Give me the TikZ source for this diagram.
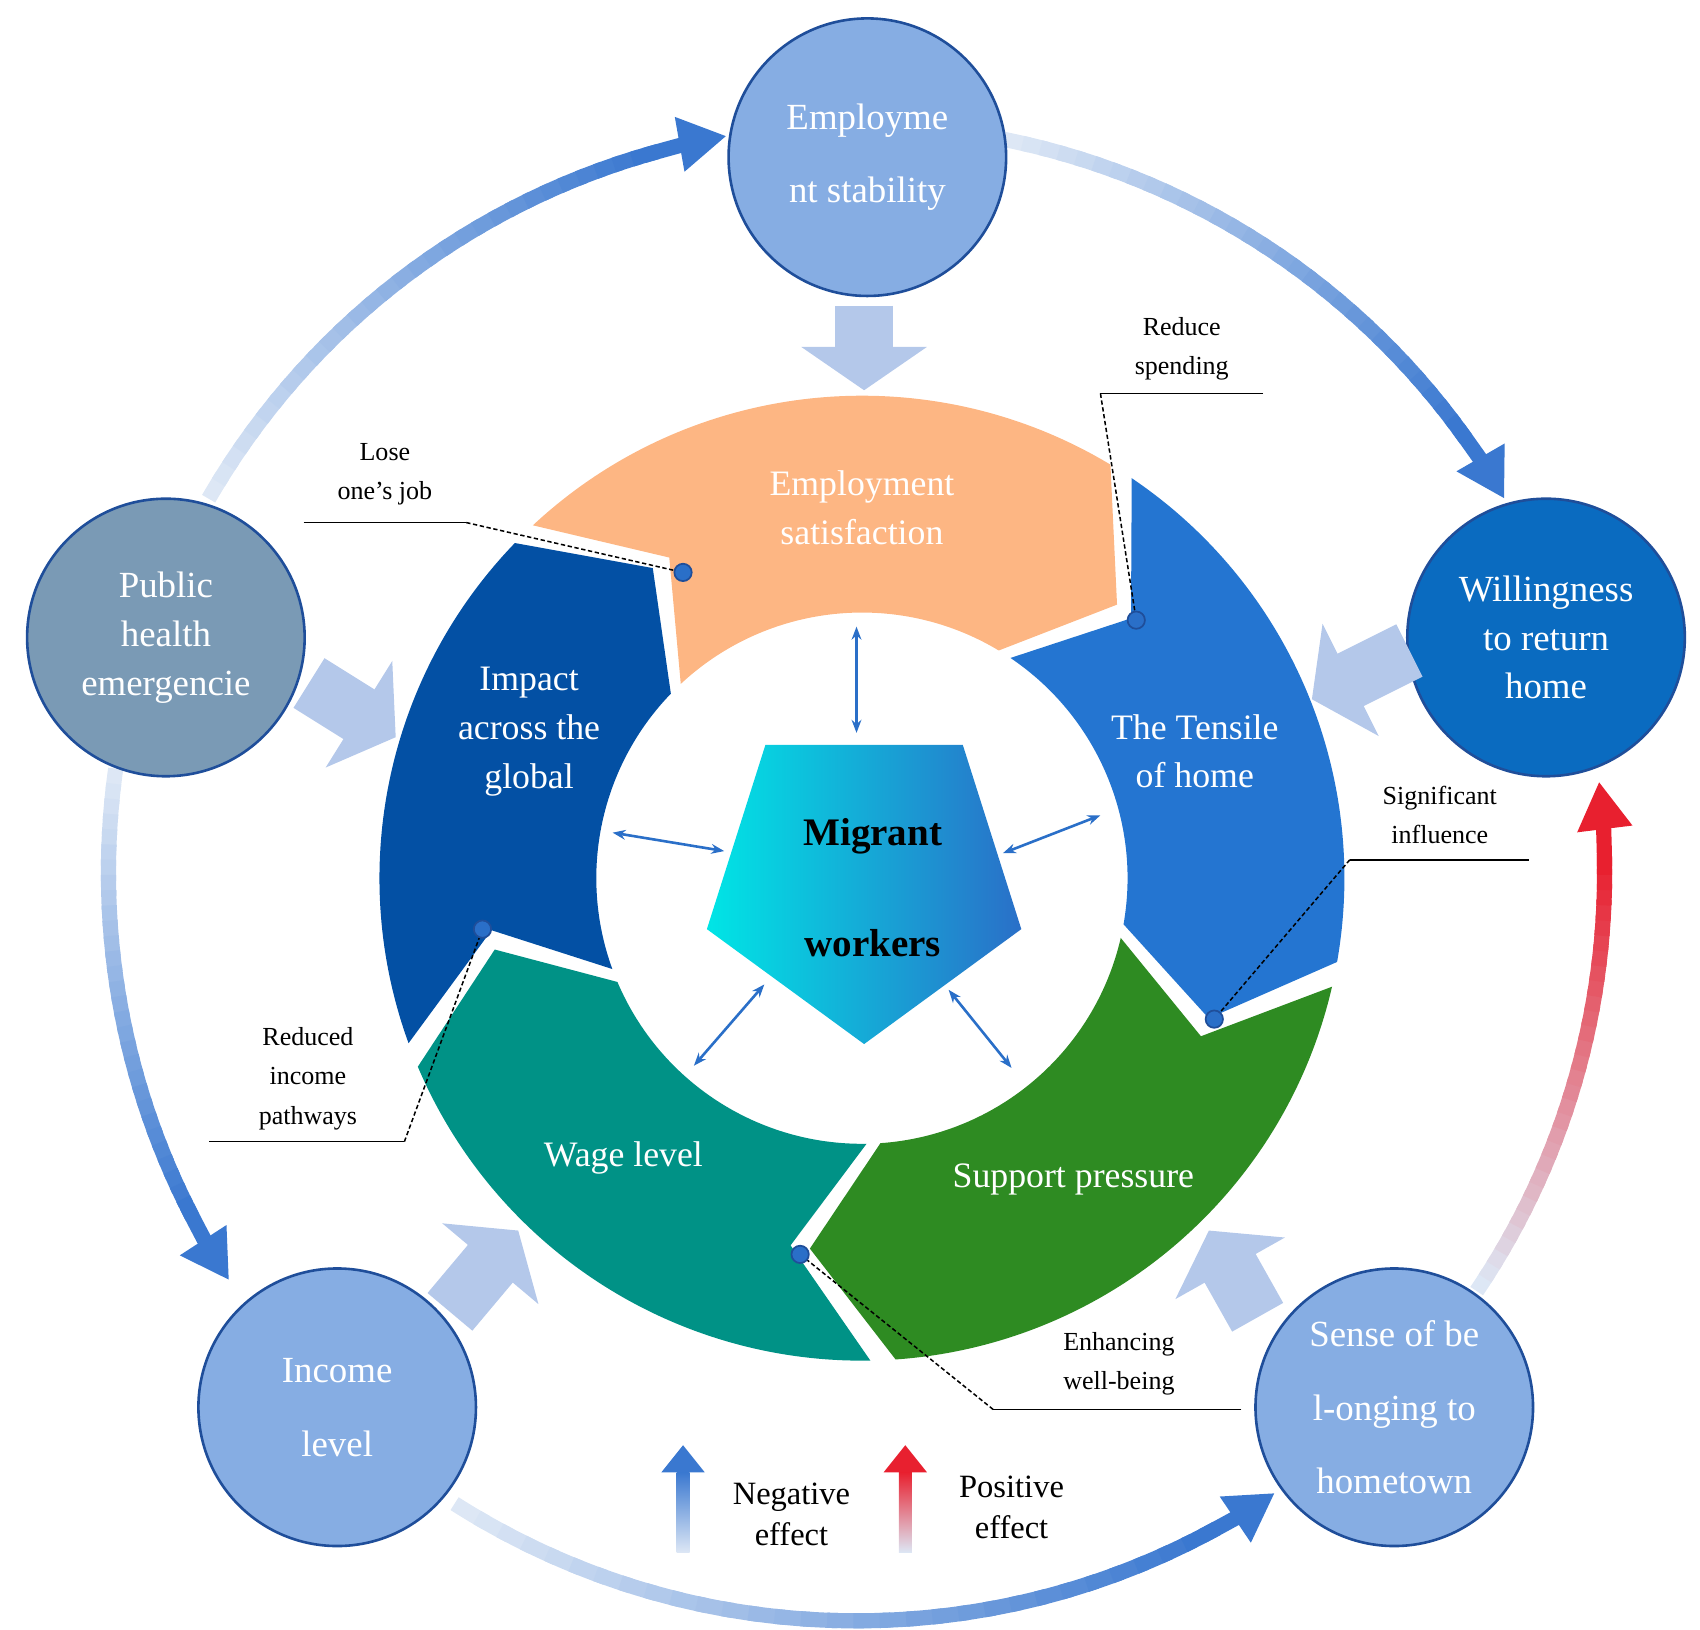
\documentclass[tikz,border=0pt]{standalone}
\usepackage{fontspec}
\setmainfont{Liberation Serif}
\usetikzlibrary{arrows.meta,calc}
\definecolor{orng}{HTML}{FDB683}
\definecolor{dblue}{HTML}{0350A4}
\definecolor{mblue}{HTML}{2475D1}
\definecolor{grn}{HTML}{2E8B22}
\definecolor{teal2}{HTML}{009286}
\definecolor{circ}{HTML}{86ADE3}
\definecolor{circgrey}{HTML}{7A9AB5}
\definecolor{circdark}{HTML}{0A6BC0}
\definecolor{edge}{HTML}{1F4E9A}
\definecolor{light}{HTML}{DDE7F5}
\definecolor{arrb}{HTML}{3A78D0}
\definecolor{arrr}{HTML}{E8202F}
\definecolor{block}{HTML}{B4C8EA}
\definecolor{thinb}{HTML}{2A6FC8}
\newcommand\myseg[3]{\fill[#3] (#1:445) arc[start angle=#1,end angle=#2,radius=445] -- (#2-12:345) -- (#2:245) arc[start angle=#2,end angle=#1,radius=245] -- (#1-12:345) -- cycle;}
\newcommand\gradarc[4]{%
 \pgfmathsetmacro\sg{sign(#2-#1)}%
 \pgfmathsetmacro\ee{#2-6*\sg}%
 \foreach \i in {0,...,29}{%
  \pgfmathsetmacro\aa{#1+(\ee-#1)*\i/30}%
  \pgfmathsetmacro\bb{#1+(\ee-#1)*(\i+1.4)/30}%
  \pgfmathtruncatemacro\pp{100*\i/29}%
  \draw[line width=7pt, color=#4!\pp!#3] ($(C)+(\aa:690)$) arc[start angle=\aa, end angle=\bb, radius=690];
 }%
 \pgfmathsetmacro\cc{#2-6.5*\sg}%
 \draw[line width=7pt, color=#4, -{Triangle[length=22pt,width=24pt]}] ($(C)+(\cc:690)$) arc[start angle=\cc, end angle=#2, radius=690];}
\begin{document}
\begin{tikzpicture}[x=0.5pt,y=0.5pt,
  bc/.style={circle, draw=edge, line width=1.2pt, minimum size=128pt, text=white, align=center, font=\fontsize{17}{22.5}\selectfont},
  seglab/.style={text=white, align=center, font=\fontsize{16.5}{22.5}\selectfont},
  blk/.style={draw=block, line width=27pt, -{Triangle[length=20pt,width=57pt]}},
  dbl/.style={draw=thinb, line width=1.2pt, {Stealth[length=6pt]}-{Stealth[length=6pt]}},
  call/.style={font=\fontsize{12}{18}\selectfont, align=center},
  dot/.style={fill=thinb, draw=edge, line width=0.8pt}]
\useasboundingbox (0,0) rectangle (1568,1503);
\coordinate (C) at (790,698);
% outer arcs
\gradarc{150}{100}{light}{arrb}
\gradarc{78.6}{30}{light}{arrb}
\gradarc{172}{213}{light}{arrb}
\gradarc{237.5}{304}{light}{arrb}
\gradarc{-34}{7}{light}{arrr}
% ring
\begin{scope}[shift={(795,693)}]
\myseg{133}{59}{orng}
\myseg{56}{-10}{mblue}
\myseg{-13}{-86}{grn}
\myseg{-89}{-157}{teal2}
\myseg{200}{136}{dblue}
\end{scope}
\node[seglab] (es) at (795,1035) {Employment\\satisfaction};
\node[seglab] (th) at (1102,810) {The Tensile\\of home};
\node[seglab] (sp) at (990,415) {Support pressure};
\node[seglab] (wl) at (575,435) {Wage level};
\node[seglab] (ia) at (488,828) {Impact\\across the\\global};
% pentagon
\shade[left color=cyan!80!teal, right color=thinb] (706,816) -- (888,816) -- (942,646) -- (797,540) -- (652,646) -- cycle;
\node[font=\bfseries\fontsize{18}{51}\selectfont, align=center] (mw) at (805,684) {Migrant\\workers};
% double arrows
\coordinate (p1) at (790,925); \coordinate (q1) at (790,827);
\coordinate (p2) at (565,735); \coordinate (q2) at (668,718);
\coordinate (p3) at (925,716); \coordinate (q3) at (1015,751);
\coordinate (p4) at (640,520); \coordinate (q4) at (705,595);
\coordinate (p5) at (875,590); \coordinate (q5) at (933,518);
\foreach \k in {1,...,5}{\draw[dbl] (p\k) -- (q\k);}
% outer circles
\node[bc, fill=circ, font=\fontsize{17}{34}\selectfont] (emp) at (800,1358) {Employme\\nt stability};
\node[bc, fill=circgrey] (ph) at (153,915) {Public\\health\\emergencie};
\node[bc, fill=circdark] (wr) at (1426,915) {Willingness\\to return\\home};
\node[bc, fill=circ, font=\fontsize{17}{34}\selectfont] (inc) at (311,205) {Income\\level};
\node[bc, fill=circ, font=\fontsize{17}{34}\selectfont] (sb) at (1286,205) {Sense of be\\l-onging to\\hometown};
% block arrows
\coordinate (b1s) at (797,1221); \coordinate (b1e) at (797,1143);
\coordinate (b2s) at (285,873); \coordinate (b2e) at (365,823);
\coordinate (b3s) at (1300,903); \coordinate (b3e) at (1210,858);
\coordinate (b4s) at (415,293); \coordinate (b4e) at (478,368);
\coordinate (b5s) at (1160,288); \coordinate (b5e) at (1115,368);
\foreach \k in {1,...,5}{\draw[blk] (b\k s) -- (b\k e);}
% callouts
\node[call] (l1) at (355,1066) {Lose\\one's job};
\coordinate (u1a) at (280,1021); \coordinate (u1b) at (430,1021); \coordinate (d1) at (630,975);
\node[call] (l2) at (1090,1181) {Reduce\\spending};
\coordinate (u2a) at (1165,1140); \coordinate (u2b) at (1015,1140); \coordinate (d2) at (1048,931);
\node[call] (l3) at (1328,751) {Significant\\influence};
\coordinate (u3a) at (1410,710); \coordinate (u3b) at (1245,710); \coordinate (d3) at (1120,563);
\node[call] (l4) at (284,508) {Reduced\\income\\pathways};
\coordinate (u4a) at (193,450); \coordinate (u4b) at (373,450); \coordinate (d4) at (445,646);
\node[call] (l5) at (1032,245) {Enhancing\\well-being};
\coordinate (u5a) at (1145,203); \coordinate (u5b) at (916,203); \coordinate (d5) at (738,346);
\foreach \k in {1,...,5}{
  \draw[line width=0.7pt] (u\k a) -- (u\k b);
  \draw[line width=0.7pt, dashed, dash pattern=on 2pt off 1.2pt] (u\k b) -- (d\k);
  \draw[dot] (d\k) circle (8);}
% legend
\shade[bottom color=light, top color=arrb] (624,71) rectangle (636,145);
\fill[arrb] (610,145) -- (650,145) -- (630,170) -- cycle;
\node[font=\fontsize{15}{19}\selectfont, align=center] (neg) at (730,106) {Negative\\effect};
\shade[bottom color=light, top color=arrr] (829,71) rectangle (841,145);
\fill[arrr] (815,145) -- (855,145) -- (835,170) -- cycle;
\node[font=\fontsize{15}{19}\selectfont, align=center] (pos) at (933,113) {Positive\\effect};
\end{tikzpicture}
\end{document}
